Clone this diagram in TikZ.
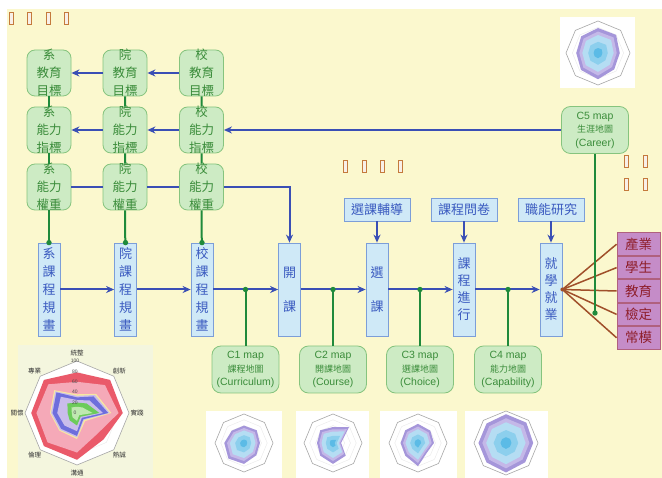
\documentclass[tikz,border=0pt]{standalone}
\usepackage{fontspec}
\setmainfont{Liberation Sans}
\newfontfamily\cjk{Noto Sans CJK TC}
\usepackage{tikz}
\usetikzlibrary{arrows.meta,positioning,calc}
\definecolor{bg}{HTML}{FBF8CE}
\definecolor{panelc}{HTML}{F4F6DE}
\definecolor{gfill}{HTML}{CDEBC4}
\definecolor{gdraw}{HTML}{86C47E}
\definecolor{gtext}{HTML}{3A8C3A}
\definecolor{gline}{HTML}{1F8A3B}
\definecolor{bfill}{HTML}{CFE9F7}
\definecolor{bdraw}{HTML}{7C9ED8}
\definecolor{btext}{HTML}{3B5BC0}
\definecolor{bline}{HTML}{3A4FB5}
\definecolor{pfill}{HTML}{C58CC8}
\definecolor{pdraw}{HTML}{B0607E}
\definecolor{ptext}{HTML}{8E1E2A}
\definecolor{rline}{HTML}{A0502A}
\definecolor{tofuc}{HTML}{C47A3C}
\definecolor{rdred}{HTML}{EA5A6A}
\definecolor{rdpink}{HTML}{F5A9B8}
\definecolor{rdyel}{HTML}{F7E8A0}
\definecolor{rdlav}{HTML}{C9BCEB}
\definecolor{rdblue}{HTML}{6E6EDC}
\definecolor{rdgrn}{HTML}{6CCB5A}
\definecolor{rdlgrn}{HTML}{BFE8B0}
\definecolor{smpur}{HTML}{A596DA}
\definecolor{smlav}{HTML}{C4B8E8}
\definecolor{smsky}{HTML}{B5DDF3}
\definecolor{smcyan}{HTML}{5BBBE6}
% one radar polygon: centre x, centre y, radius, style, eight values
\newcommand\radarpoly[5]{%
  \foreach \v [count=\i] in {#5}
    {\coordinate (rp\i) at ([shift={({-135+45*\i}:{#3*\v})}]#1,#2);}
  \path[#4] (rp1)--(rp2)--(rp3)--(rp4)--(rp5)--(rp6)--(rp7)--(rp8)--cycle;}
\newcommand\radargrid[3]{%
  \radarpoly{#1}{#2}{#3}{fill=white,draw=gray!70,line width=0.6pt}{1,1,1,1,1,1,1,1}%
  \foreach \r in {0.2,0.4,0.6,0.8}
    {\radarpoly{#1}{#2}{#3*\r}{draw=gray!20,line width=0.3pt}{1,1,1,1,1,1,1,1}}}
\newcommand\smallradar[4]{%
  \radargrid{#1}{#2}{#3}%
  \radarpoly{#1}{#2}{#3}{fill=smpur}{#4}%
  \radarpoly{#1}{#2}{#3*0.86}{fill=smlav}{#4}%
  \radarpoly{#1}{#2}{#3*0.72}{fill=smsky}{#4}%
  \radarpoly{#1}{#2}{#3*0.45}{fill=smcyan!70}{#4}%
  \radarpoly{#1}{#2}{#3*0.2}{fill=smcyan}{#4}}
\tikzset{
  >={Stealth[length=8pt,width=7pt]},
  cell/.style={draw=gdraw,fill=gfill,rounded corners=8pt,line width=0.8pt,minimum width=44pt,minimum height=46pt,inner sep=0pt},
  celltxt/.style={font=\fontsize{12.5}{18}\cjk,text=gtext,align=center,inner sep=0pt},
  plan/.style={draw=bdraw,fill=bfill,line width=0.8pt,minimum width=22pt,minimum height=93pt,inner sep=0pt,text=btext,align=center,font=\fontsize{13}{18}\cjk},
  tbox/.style={draw=bdraw,fill=bfill,line width=0.8pt,minimum width=66pt,minimum height=23pt,inner sep=0pt,text=btext,font=\fontsize{13}{16}\cjk},
  cmap/.style={draw=gdraw,fill=gfill,rounded corners=9pt,line width=0.8pt,minimum width=67pt,minimum height=47pt,inner sep=0pt,text=gtext,align=center,font=\fontsize{10.5}{13.5}\selectfont},
  pbox/.style={draw=pdraw,fill=pfill,line width=0.8pt,minimum width=43pt,minimum height=22.6pt,inner sep=0pt,text=ptext,font=\fontsize{13.5}{16}\cjk},
  barr/.style={->,draw=bline,line width=2pt},
  bln/.style={draw=bline,line width=2pt},
  gln/.style={draw=gline,line width=2pt},
  rln/.style={draw=rline,line width=1.5pt},
  tofu/.style={draw=tofuc,fill=tofuc!12,line width=0.8pt},
  rlab/.style={font=\fontsize{6.5}{7}\cjk,text=black!80,inner sep=0pt},
  slab/.style={font=\fontsize{5}{5}\selectfont,text=black!70,inner sep=0pt},
}
\newcommand\mapsub[1]{{\cjk\fontsize{9}{13.5}\selectfont #1}}
\begin{document}
\begin{tikzpicture}[x=1pt,y=-1pt]
\useasboundingbox (0,0) rectangle (662,478);
\fill[bg] (7,9) rectangle (662,478);
% glyph boxes
\foreach \x/\y in {9/12,27/12,46/12,64/12,343/160,362/160,380/160,398/160,624/155,643/155,624/178,643/178}
  {\draw[tofu] (\x,\y) rectangle ++(4,12);}

% radar charts
\fill[panelc] (18,345) rectangle (153,478);
\radargrid{77}{413}{52}
\radarpoly{77}{413}{52}{fill=rdred}{0.78,0.9,0.88,0.72,0.9,0.9,0.88,0.9}
\radarpoly{77}{413}{52}{fill=rdpink}{0.6,0.76,0.8,0.56,0.76,0.8,0.78,0.78}
\radarpoly{77}{413}{52}{fill=rdyel}{0.36,0.52,0.66,0.22,0.5,0.48,0.52,0.62}
\radarpoly{77}{413}{52}{fill=rdlav}{0.33,0.49,0.63,0.19,0.47,0.46,0.5,0.59}
\radarpoly{77}{413}{52}{fill=rdblue}{0.3,0.45,0.6,0.17,0.44,0.43,0.47,0.56}
\radarpoly{77}{413}{52}{fill=rdlav}{0.25,0.34,0.5,0.13,0.35,0.34,0.38,0.44}
\radarpoly{77}{413}{52}{fill=rdgrn}{0.2,0.26,0.43,0.1,0.24,0.2,0.18,0.26}
\radarpoly{77}{413}{52}{fill=rdlgrn}{0.12,0.15,0.3,0.06,0.15,0.12,0.1,0.15}
\foreach \t [count=\i] in {統整,創新,實踐,熱誠,溝通,倫理,關懷,專業}
  {\node[rlab] (rl\i) at ([shift={({-135+45*\i}:60)}]77,413) {\t};}
\foreach \n in {0,20,40,60,80,100}
  {\node[slab] (sc\n) at (75,{413-0.52*\n}) {\n};}

\fill[white] (560,17) rectangle (635,88);
\smallradar{598}{53}{32}{0.78,0.8,0.68,0.72,0.82,0.75,0.68,0.74}
\fill[white] (206,411) rectangle (282,478);
\smallradar{244}{443}{29}{0.6,0.62,0.55,0.6,0.72,0.76,0.68,0.6}
\fill[white] (296,411) rectangle (369,478);
\smallradar{333}{443}{29}{0.55,0.78,0.28,0.62,0.72,0.62,0.55,0.62}
\fill[white] (380,411) rectangle (457,478);
\smallradar{418}{443}{29}{0.66,0.6,0.55,0.45,0.8,0.62,0.6,0.62}
\fill[white] (465,411) rectangle (548,478);
\smallradar{506}{443}{32}{0.9,0.9,0.85,0.85,0.92,0.86,0.86,0.86}

% goal / index / weight cells
\node[cell,label={[celltxt]center:系\\教育\\目標}] (dgoal) at (49,73) {};
\node[cell,label={[celltxt]center:院\\教育\\目標}] (cgoal) at (125,73) {};
\node[cell,label={[celltxt]center:校\\教育\\目標}] (ugoal) at (201.5,73) {};
\node[cell,label={[celltxt]center:系\\能力\\指標}] (dind) at (49,130) {};
\node[cell,label={[celltxt]center:院\\能力\\指標}] (cind) at (125,130) {};
\node[cell,label={[celltxt]center:校\\能力\\指標}] (uind) at (201.5,130) {};
\node[cell,label={[celltxt]center:系\\能力\\權重}] (dwt) at (49,187) {};
\node[cell,label={[celltxt]center:院\\能力\\權重}] (cwt) at (125,187) {};
\node[cell,label={[celltxt]center:校\\能力\\權重}] (uwt) at (201.5,187) {};

% process boxes
\node[plan] (dplan) at (49,289.5) {系\\課\\程\\規\\畫};
\node[plan] (cplan) at (125.5,289.5) {院\\課\\程\\規\\畫};
\node[plan] (uplan) at (202,289.5) {校\\課\\程\\規\\畫};
\node[plan,font=\fontsize{13}{34}\cjk] (open) at (289.5,289.5) {開\\課};
\node[plan,font=\fontsize{13}{34}\cjk] (pick) at (377,289.5) {選\\課};
\node[plan,font=\fontsize{13}{17}\cjk] (teach) at (464,289.5) {課\\程\\進\\行};
\node[plan,font=\fontsize{13}{17}\cjk] (employ) at (551,289.5) {就\\學\\就\\業};
\node[tbox] (advise) at (377,209.5) {選課輔導};
\node[tbox] (survey) at (464,209.5) {課程問卷};
\node[tbox] (research) at (551,209.5) {職能研究};

% maps
\node[cmap] (cmap1) at (245.5,369.5) {C1 map\\\mapsub{課程地圖}\\(Curriculum)};
\node[cmap] (cmap2) at (333,369.5) {C2 map\\\mapsub{開課地圖}\\(Course)};
\node[cmap] (cmap3) at (420,369.5) {C3 map\\\mapsub{選課地圖}\\(Choice)};
\node[cmap] (cmap4) at (508,369.5) {C4 map\\\mapsub{能力地圖}\\(Capability)};
\node[cmap] (cmap5) at (595,130) {C5 map\\\mapsub{生涯地圖}\\(Career)};

% stakeholders
\node[pbox] (ind) at (638.5,244.2) {產業};
\node[pbox,below=0pt of ind] (stu) {學生};
\node[pbox,below=0pt of stu] (edu) {教育};
\node[pbox,below=0pt of edu] (cert) {檢定};
\node[pbox,below=0pt of cert] (norm) {常模};

% connectors
\draw[barr] (ugoal) -- (cgoal);
\draw[barr] (cgoal) -- (dgoal);
\draw[barr] (cmap5) -- (uind);
\draw[barr] (uind) -- (cind);
\draw[barr] (cind) -- (dind);
\draw[bln] (dwt) -- (cwt);
\draw[bln] (cwt) -- (uwt);
\draw[barr] (uwt.east) -| (open.north);
\draw[barr] (dplan) -- (cplan);
\draw[barr] (cplan) -- (uplan);
\draw[barr] (uplan) -- (open);
\draw[barr] (open) -- (pick);
\draw[barr] (pick) -- (teach);
\draw[barr] (teach) -- (employ);
\draw[barr] (advise) -- (pick);
\draw[barr] (survey) -- (teach);
\draw[barr] (research) -- (employ);

\draw[gln] (dgoal) -- (dind) -- (dwt) -- (dplan);
\draw[gln] (cgoal) -- (cind) -- (cwt) -- (cplan);
\draw[gln] (ugoal) -- (uind) -- (uwt) -- (uplan);
\foreach \n in {dplan,cplan,uplan}
  {\fill[gline] (\n.north) circle (2.7);}

\foreach \n in {ind,stu,edu,cert,norm}
  {\draw[rln] (employ.east) -- (\n.west);}
\fill[rline] (employ.east) circle (2);

\foreach \k in {1,2,3,4} {
  \coordinate (tap\k) at (cmap\k |- open);
  \draw[gln] (tap\k) -- (cmap\k);
  \fill[gline] (tap\k) circle (2.7);
}
\coordinate (tap5) at (595,313);
\draw[gln] (cmap5) -- (tap5);
\fill[gline] (tap5) circle (2.7);
\end{tikzpicture}
\end{document}
